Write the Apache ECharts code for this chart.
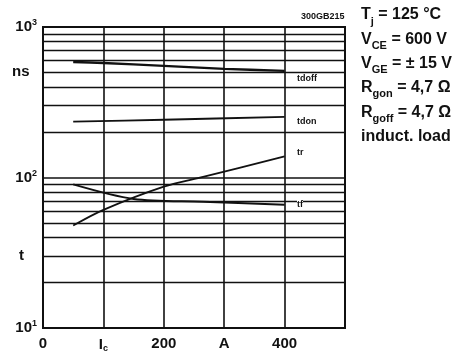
<!DOCTYPE html>
<html><head><meta charset="utf-8">
<script src="https://cdn.jsdelivr.net/npm/echarts@6/dist/echarts.min.js"></script>
<style>html,body{margin:0;padding:0;background:#fff}#c{width:469px;height:353px}</style>
</head><body><div id="c"></div>
<script>
// ---- data ----
const xTicks = [0, 100, 200, 300, 400, 500];
const xTickLabels = ['0', 'I_c', '200', 'A', '400', ''];
const yMajor = [10, 100, 1000];
const yMinor = [20, 30, 40, 50, 60, 70, 80, 90, 200, 300, 400, 500, 600, 700, 800, 900];
const tdoffI = [50, 100, 200, 300, 400];
const tdoffT = [586, 577, 552, 527, 511];
const tdonI = [50, 200, 400];
const tdonT = [235, 242, 253];
const trI = [50, 100, 200, 265, 400];
const trT = [48, 61, 87, 101, 138];
const tfI = [50, 150, 265, 400];
const tfT = [90, 72, 69, 66];
const conditions = [
  ['T', 'j', ' = 125 °C'],
  ['V', 'CE', ' = 600 V'],
  ['V', 'GE', ' = ± 15 V'],
  ['R', 'gon', ' = 4,7 Ω'],
  ['R', 'goff', ' = 4,7 Ω'],
  ['induct. load', '', '']
];
const curveNames = ['tdoff', 'tdon', 'tr', 'tf'];

const FONT = 'Liberation Sans, Arial, sans-serif';
const chart = echarts.init(document.getElementById('c'));
const zip = (a, b) => a.map((v, i) => [v, b[i]]);
const lineSeries = (name, xs, ys, w) => ({
  name, type: 'line', data: zip(xs, ys), symbol: 'none', smooth: 0.3,
  lineStyle: { color: '#111', width: w }, z: 5, silent: true
});

const graphics = [];
conditions.forEach((c, i) => {
  graphics.push({
    type: 'text', left: 361, top: 7 + i * 24.3,
    style: {
      text: c[1] ? `{n|${c[0]}}{s|${c[1]}}{n|${c[2]}}` : `{n|${c[0]}}`,
      rich: {
        n: { fontSize: 16, fontWeight: 'bold', fontFamily: FONT, fill: '#111', lineHeight: 20, verticalAlign: 'top' },
        s: { fontSize: 11, fontWeight: 'bold', fontFamily: FONT, fill: '#111', lineHeight: 11, padding: [9, 0, 0, 0], verticalAlign: 'top' }
      }
    }
  });
});
graphics.push({ type: 'text', left: 301, top: 12, style: { text: '300GB215', fontSize: 9, fontWeight: 'bold', fontFamily: FONT, fill: '#111' } });
graphics.push({ type: 'text', left: 12, top: 64, style: { text: 'ns', fontSize: 15, fontWeight: 'bold', fontFamily: FONT, fill: '#111' } });
graphics.push({ type: 'text', left: 19, top: 248, style: { text: 't', fontSize: 15, fontWeight: 'bold', fontFamily: FONT, fill: '#111' } });
const lblPos = [[297, 74], [297, 117], [297, 148], [297, 200]];
curveNames.forEach((n, i) => {
  graphics.push({ type: 'text', left: lblPos[i][0], top: lblPos[i][1], style: { text: n, fontSize: 9, fontWeight: 'bold', fontFamily: FONT, fill: '#111', backgroundColor: '#fff' }, z: 10 });
});

chart.setOption({
  animation: false,
  backgroundColor: '#fff',
  grid: { left: 43, top: 27, right: 124, bottom: 24, show: true, borderColor: '#111', borderWidth: 2 },
  xAxis: {
    type: 'value', min: 0, max: 500, interval: 100,
    axisLine: { show: false }, axisTick: { show: false },
    splitLine: { show: true, lineStyle: { color: '#111', width: 1.6 } },
    axisLabel: {
      margin: 8,
      formatter: v => {
        const l = xTickLabels[xTicks.indexOf(v)] || '';
        if (l === 'I_c') return '{b|I}{s|c}';
        return l ? `{b|${l}}` : '';
      },
      rich: {
        b: { fontSize: 15, fontWeight: 'bold', fontFamily: FONT, color: '#111' },
        s: { fontSize: 9, fontWeight: 'bold', fontFamily: FONT, color: '#111', padding: [8, 0, 0, 0] }
      }
    }
  },
  yAxis: {
    type: 'log', logBase: 10, min: 10, max: 1000,
    axisLine: { show: false }, axisTick: { show: false },
    splitLine: { show: true, lineStyle: { color: '#111', width: 1.6 } },
    axisLabel: {
      margin: 6,
      formatter: v => `{b|10}{s|${Math.round(Math.log10(v))}}`,
      rich: {
        b: { fontSize: 15, fontWeight: 'bold', fontFamily: FONT, color: '#111' },
        s: { fontSize: 9, fontWeight: 'bold', fontFamily: FONT, color: '#111', padding: [0, 0, 8, 0] }
      }
    }
  },
  series: [
    {
      type: 'line', data: [], silent: true,
      markLine: {
        silent: true, symbol: 'none', label: { show: false },
        lineStyle: { color: '#111', width: 1.4, type: 'solid' },
        data: yMinor.map(v => ({ yAxis: v }))
      }
    },
    lineSeries('tdoff', tdoffI, tdoffT, 2.4),
    lineSeries('tdon', tdonI, tdonT, 1.8),
    lineSeries('tr', trI, trT, 1.8),
    lineSeries('tf', tfI, tfT, 2)
  ],
  graphic: graphics
});
</script></body></html>
